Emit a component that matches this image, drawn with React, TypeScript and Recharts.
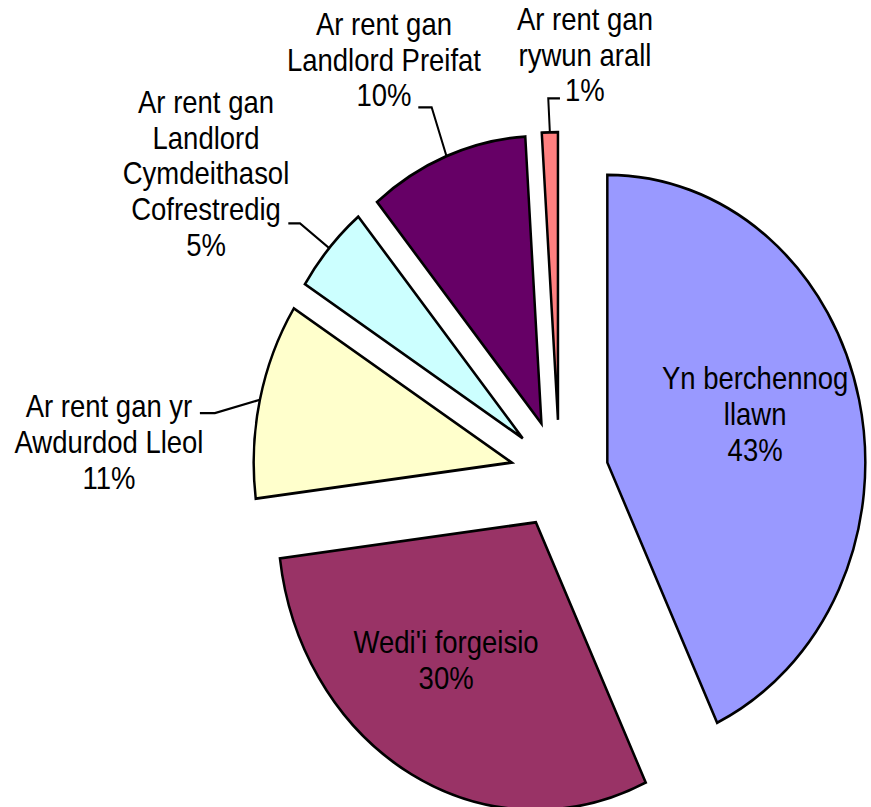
import React from 'react';
import { PieChart, Pie, Cell } from 'recharts';

// ---- data ----
const categories: string[] = [
  'Yn berchennog llawn',
  "Wedi'i forgeisio",
  'Ar rent gan yr Awdurdod Lleol',
  'Ar rent gan Landlord Cymdeithasol Cofrestredig',
  'Ar rent gan Landlord Preifat',
  'Ar rent gan rywun arall',
];
const labelLines: string[][] = [
  ['Yn berchennog', 'llawn'],
  ["Wedi'i forgeisio"],
  ['Ar rent gan yr', 'Awdurdod Lleol'],
  ['Ar rent gan', 'Landlord', 'Cymdeithasol', 'Cofrestredig'],
  ['Ar rent gan', 'Landlord Preifat'],
  ['Ar rent gan', 'rywun arall'],
];
const values: number[] = [43, 30, 11, 5, 10, 1];
const colors: string[] = ['#9999FF', '#993366', '#FFFFCC', '#CCFFFF', '#660066', '#FF8080'];

const data = categories.map((name, i) => ({ name, value: values[i] }));

// ---- layout ----
const W = 871;
const H = 724;
const SCALE_Y = 1.115;
const CENTER = { x: 559.5, y: 425.5 };
const RADIUS = 258;
const EXPLODE = 49;
const FONT_SIZE = 27.5;
const LINE_H = 32;
// first-line baseline offset from the slice's outer arc midpoint
const labelOffsets: number[][] = [
  [-104, -9.5],
  [34.5, -108.5],
  [-150.9, 15.7],
  [-123.2, -121.2],
  [-62.5, -108.6],
  [35.1, -91.7],
];
// leader polyline points relative to the arc midpoint
const leaderPts: (number[][] | null)[] = [
  null,
  null,
  [[-45, 12], [-60, 12]],
  [[-29.2, -22.2], [-40.9, -22.2]],
  [[-14.8, -43.8], [-28.2, -43.8]],
  [[-1.6, -30.4], [10.1, -30.4]],
];

const total = values.reduce((a, b) => a + b, 0);
const midAngles = values.map((v, i) => {
  const before = values.slice(0, i).reduce((a, b) => a + b, 0);
  return 90 - (360 * (before + v / 2)) / total;
});

const RAD = Math.PI / 180;

const makeLabel = (i: number) => (props: any) => {
  const idx = props.index ?? categories.indexOf(props.name);
  if (idx !== i) return null;
  const cx = Number(props.cx);
  const cy = Number(props.cy);
  const r = Number(props.outerRadius);
  const mid = Number(props.midAngle);
  const mx = cx + r * Math.cos(-mid * RAD);
  const my = cy + r * Math.sin(-mid * RAD);
  const [dx, dy] = labelOffsets[i];
  const tx = mx + dx;
  const ty = my + dy;
  const lines = [...labelLines[i], `${values[i]}%`];
  const pts = leaderPts[i];
  return (
    <g>
      {pts && (
        <polyline
          points={[[mx, my], ...pts.map(([px, py]) => [mx + px, my + py])]
            .map((p) => p.join(','))
            .join(' ')}
          fill="none"
          stroke="#000"
          strokeWidth={2}
        />
      )}
      <text
        x={tx}
        y={ty}
        textAnchor="middle"
        fontFamily="'Liberation Sans', Arial, sans-serif"
        fontSize={FONT_SIZE}
        fill="#000"
      >
        {lines.map((ln, k) => (
          <tspan key={k} x={tx} y={ty + k * LINE_H}>
            {ln}
          </tspan>
        ))}
      </text>
    </g>
  );
};

export default function App() {
  return (
    <div
      style={{
        position: 'absolute',
        left: 0,
        top: 0,
        width: W,
        height: H,
        transform: `scaleY(${SCALE_Y})`,
        transformOrigin: '0 0',
        background: '#fff',
      }}
    >
      <PieChart width={W} height={H} margin={{ top: 0, right: 0, bottom: 0, left: 0 }}>
        {values.map((_, i) => {
          const a = midAngles[i] * RAD;
          const cx = CENTER.x + EXPLODE * Math.cos(a);
          const cy = CENTER.y - EXPLODE * Math.sin(a);
          return (
            <Pie
              key={i}
              data={data}
              dataKey="value"
              nameKey="name"
              cx={cx}
              cy={cy}
              innerRadius={0}
              outerRadius={RADIUS}
              startAngle={90}
              endAngle={-270}
              isAnimationActive={false}
              labelLine={false}
              label={makeLabel(i)}
            >
              {data.map((d, j) => (
                <Cell
                  key={j}
                  fill={j === i ? colors[j] : 'none'}
                  stroke={j === i ? '#000' : 'none'}
                  strokeWidth={2.5}
                />
              ))}
            </Pie>
          );
        })}
      </PieChart>
    </div>
  );
}
